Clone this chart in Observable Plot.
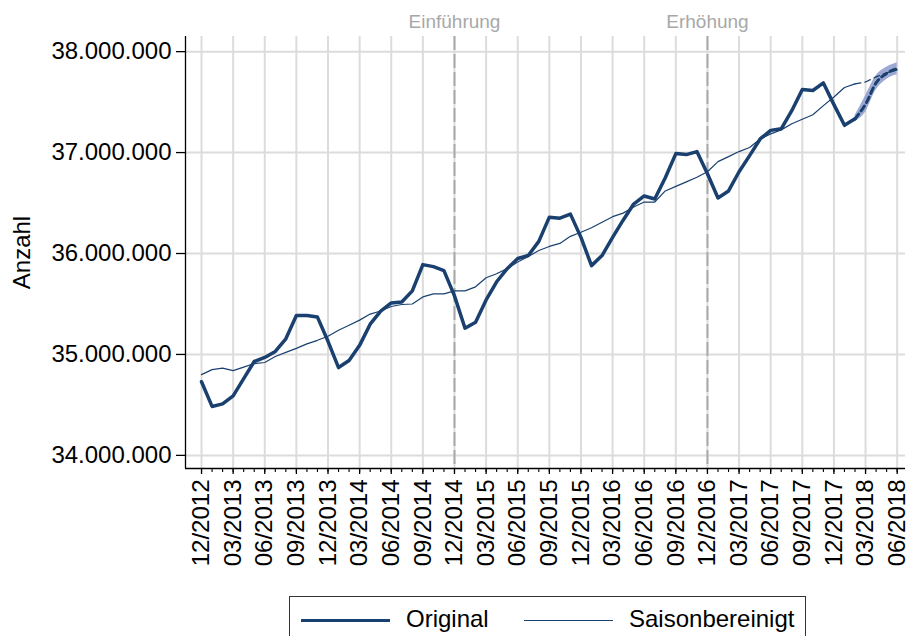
<!DOCTYPE html>
<html>
<head>
<meta charset="utf-8">
<script src="https://cdn.jsdelivr.net/npm/d3@7"></script>
<script src="https://cdn.jsdelivr.net/npm/@observablehq/plot@0.6"></script>
<style>
  html, body { margin: 0; padding: 0; background: #fff; overflow: hidden; }
  body { width: 910px; height: 636px; font-family: "Liberation Sans", Arial, sans-serif; }
  #legend { position: relative; margin-left: 289px; margin-top: 6px; width: 517px; height: 60px;
            border: 1.5px solid #333; box-sizing: border-box; }
  .li { position: absolute; top: 22px; height: 0; }
  .lt { position: absolute; top: 8px; font-size: 24px; color: #000; line-height: 28px; }
</style>
</head>
<body>
<div id="chart"></div>
<div id="legend">
  <div class="li" style="left:11px;width:89px;border-top:3.5px solid #1a406f;"></div>
  <div class="lt" style="left:116px;">Original</div>
  <div class="li" style="left:234px;width:89px;border-top:1.3px solid #1a406f;top:23px;"></div>
  <div class="lt" style="left:339px;">Saisonbereinigt</div>
</div>
<script>
// Month index 0 = 12/2012 ... 66 = 06/2018
const tickMonths = [0,3,6,9,12,15,18,21,24,27,30,33,36,39,42,45,48,51,54,57,60,63,66];
const tickLabels = ["12/2012","03/2013","06/2013","09/2013","12/2013","03/2014","06/2014","09/2014",
  "12/2014","03/2015","06/2015","09/2015","12/2015","03/2016","06/2016","09/2016",
  "12/2016","03/2017","06/2017","09/2017","12/2017","03/2018","06/2018"];
const yTicks = [34, 35, 36, 37, 38]; // Mio.

// Original (Mio.), 12/2012 .. 02/2018
const original = [34.73,34.485,34.51,34.59,34.76,34.93,34.97,35.03,35.155,35.385,35.385,35.37,
  35.13,34.87,34.94,35.09,35.30,35.43,35.51,35.52,35.63,35.89,35.87,35.83,
  35.58,35.26,35.32,35.54,35.72,35.85,35.95,35.98,36.12,36.36,36.35,36.39,
  36.16,35.88,35.98,36.16,36.33,36.49,36.57,36.54,36.75,36.99,36.98,37.01,
  36.79,36.55,36.62,36.81,36.97,37.135,37.22,37.235,37.415,37.625,37.615,37.69,
  37.475,37.27,37.335];
// Forecast original, 02/2018 .. 06/2018
const forecastStart = 62;
const forecast = [37.335, 37.48, 37.69, 37.785, 37.83];
const forecastLo = [37.305, 37.40, 37.62, 37.725, 37.77];
const forecastHi = [37.365, 37.56, 37.76, 37.845, 37.89];

// Saisonbereinigt (Mio.), 12/2012 .. 02/2018
const saison = [34.80,34.85,34.865,34.84,34.875,34.91,34.92,34.98,35.02,35.06,35.105,35.14,
  35.18,35.24,35.29,35.34,35.40,35.43,35.475,35.495,35.50,35.57,35.60,35.60,
  35.63,35.63,35.67,35.76,35.80,35.85,35.915,35.97,36.03,36.07,36.10,36.17,
  36.21,36.255,36.31,36.365,36.40,36.46,36.51,36.51,36.62,36.665,36.71,36.755,
  36.81,36.91,36.96,37.01,37.05,37.135,37.185,37.225,37.285,37.33,37.375,37.465,
  37.55,37.645,37.68];
// Forecast saisonbereinigt, 02/2018 .. 06/2018
const saisonFcStart = 62;
const saisonFc = [37.68, 37.70, 37.75, 37.79, 37.82];

const events = [{m: 24, label: "Einführung"}, {m: 48, label: "Erhöhung"}];

const allMonths = d3.range(0, 67);
const origData = original.map((v, i) => ({m: i, v}));
const fcData = forecast.map((v, i) => ({m: forecastStart + i, v, lo: forecastLo[i], hi: forecastHi[i]}));
const saData = saison.map((v, i) => ({m: i, v}));
const saFcData = saisonFc.map((v, i) => ({m: saisonFcStart + i, v}));

const de = d3.formatLocale({decimal: ",", thousands: ".", grouping: [3], currency: ["", "€"]});
const fmt = de.format(",d");
const navy = "#1a406f";
const xmin = -1.52, xmax = 66.79, ymin = 33.87, ymax = 38.15;

const chart = Plot.plot({
  width: 910,
  height: 590,
  marginLeft: 185,
  marginRight: 5,
  marginTop: 36,
  marginBottom: 122,
  style: {fontFamily: "'Liberation Sans', Arial, sans-serif", fontSize: "24px", color: "#000", background: "#fff"},
  x: {domain: [xmin, xmax], axis: null},
  y: {domain: [ymin, ymax], axis: null},
  marks: [
    Plot.ruleY(yTicks, {stroke: "#dcdcdc", strokeWidth: 2}),
    Plot.ruleX(tickMonths, {stroke: "#dcdcdc", strokeWidth: 2}),
    Plot.ruleX(events, {x: "m", stroke: "#aaaaaa", strokeWidth: 2, strokeDasharray: "14,4"}),
    Plot.text(events, {x: "m", text: "label", frameAnchor: "top", lineAnchor: "middle", textAnchor: "middle", dy: -15, fill: "#a8a8a8", fontSize: 19}),
    Plot.areaY(fcData, {x: "m", y1: "lo", y2: "hi", fill: "#8594c8", fillOpacity: 0.8, curve: "monotone-x"}),
    Plot.line(saData, {x: "m", y: "v", stroke: navy, strokeWidth: 1.2}),
    Plot.line(saFcData, {x: "m", y: "v", stroke: navy, strokeWidth: 1.2, strokeDasharray: "6,4"}),
    Plot.line(origData, {x: "m", y: "v", stroke: navy, strokeWidth: 3.5, strokeLinejoin: "round"}),
    Plot.line(fcData, {x: "m", y: "v", stroke: navy, strokeWidth: 3, strokeDasharray: "6,4", curve: "monotone-x"}),
    Plot.ruleX([xmin], {stroke: "#000", strokeWidth: 1.3}),
    Plot.ruleY([ymin], {stroke: "#000", strokeWidth: 1.3}),
    Plot.axisY({ticks: yTicks, tickFormat: d => fmt(d * 1e6), tickSize: 9, tickPadding: 5, fontSize: 24, strokeWidth: 1.3, label: null}),
    Plot.axisX({ticks: allMonths, tickFormat: () => "", tickSize: 4, strokeWidth: 1.1, label: null}),
    Plot.axisX({ticks: tickMonths, tickFormat: (d) => tickLabels[tickMonths.indexOf(d)], tickSize: 6, tickPadding: 5, tickRotate: -90, fontSize: 24, strokeWidth: 1.3, label: null}),
    Plot.text(["Anzahl"], {text: d => d, frameAnchor: "left", textAnchor: "middle", lineAnchor: "middle", dx: -163, rotate: -90, fontSize: 24, fill: "#000"})
  ]
});
document.getElementById("chart").appendChild(chart);
</script>
</body>
</html>
